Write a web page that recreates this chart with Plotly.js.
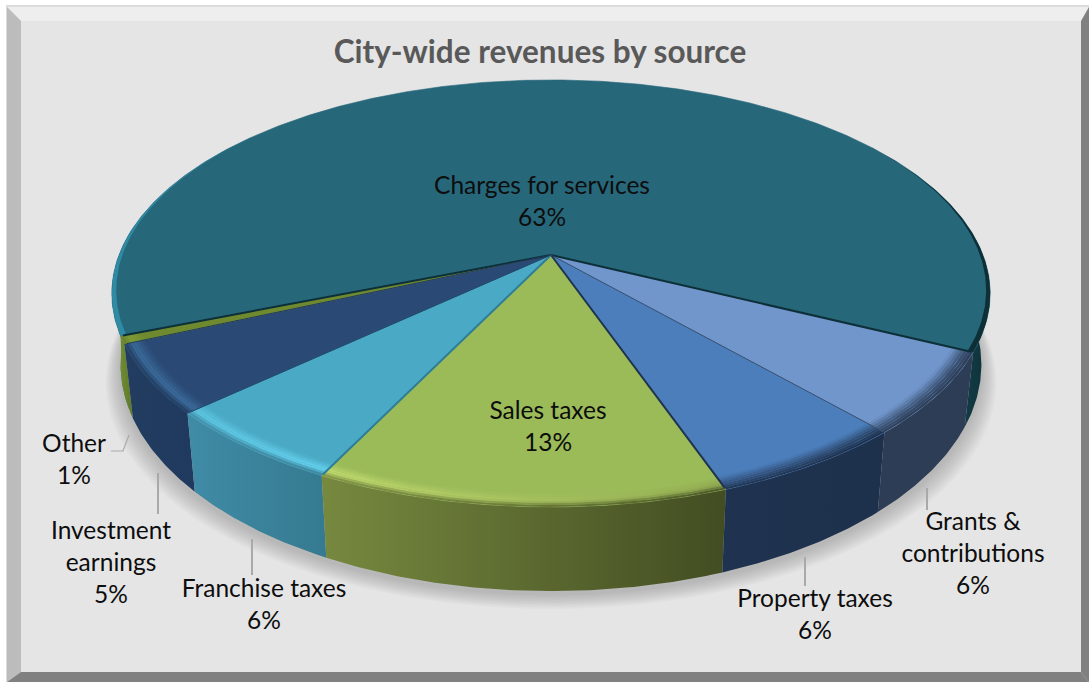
<!DOCTYPE html>
<html><head><meta charset="utf-8">
<script src="https://cdn.plot.ly/plotly-3.0.1.min.js"></script>
<style>html,body{margin:0;padding:0;background:#fff;overflow:hidden}#c{width:1089px;height:682px}</style>
</head><body><div id="c"></div>
<script>
// ---- data (clockwise from the start of the first slice) ----
const categories = ["Charges for services","Grants & contributions","Property taxes","Sales taxes","Franchise taxes","Investment earnings","Other"];
const values     = [63.1, 6.2, 6.2, 12.8, 5.9, 5.2, 0.6];
const nameLines  = [["Charges for services"],["Grants &","contributions"],["Property taxes"],["Sales taxes"],["Franchise taxes"],["Investment","earnings"],["Other"]];
const chartTitle = "City-wide revenues by source";

// ---- styling ----
const topColors  = ["#26677a","#7096cb","#4b7ebb","#9bbb59","#4aa9c4","#2a4a75","#6f8a2e"];
const wallLeft   = ["#2d8198","#2c3d55","#1f3350","#77893f","#408ba6","#223d60","#6f8a30"];
const wallRight  = ["#0e2f36","#2c3d55","#1d304c","#424d22","#357a90","#1f3a5e","#5f7a28"];
const hiLeft     = ["#2f8aa3","#3f5678","#33527f","#c3dc6f","#5cc6e2","#3a6a9a","#7f9b35"];
const hiRight    = ["#0e2f36","#3c5274","#2c4668","#8fa850","#66d4f2","#3c6c9c","#7f9b35"];
const sepColors  = ["#0d2f38","#0d2f38","#3a5070","#1d3350","#2e7d97","#1f4a6a","#1f3a5e"];
const sepWidths  = [2,2,1,2,2,1,1];
// label centre positions, pixel layout
const labelX = [542,973,815,548,264,111,74];
const labelY = [188,524,601,413,591,533,446];
const lineGap = 32;
const leaderPaths = [[[927,488],[927,510]],[[805,557],[805,586]],[[252,539],[252,575]],[[158,473],[158,514]],[[111,451],[123,451],[129,435]]];

// ---- projection of the tilted disc ----
const cx=551, cy=255, A=432, B=206.6, K=0.18, H=69, SX=0.98, START=248.56;
const rad=d=>d*Math.PI/180;
function rimPt(th,r){const X=Math.sin(rad(th)),Y=Math.cos(rad(th)),w=1+K*Y*r;return [cx+A*X*r/w,cy-B*Y*r/w];}
function lowPt(th){const X=Math.sin(rad(th)),Y=Math.cos(rad(th)),w=1+K*Y;return [cx+SX*A*X/w,cy-B*Y/w+H/w];}
function arc(a,b,f){const out=[],n=Math.max(2,Math.ceil(Math.abs(b-a)*2));for(let i=0;i<=n;i++)out.push(f(a+(b-a)*i/n));return out;}
function hex(c){return [1,3,5].map(i=>parseInt(c.substr(i,2),16));}
function mix(a,b,t){const p=hex(a),q=hex(b);return '#'+p.map((v,i)=>Math.round(v+(q[i]-v)*t).toString(16).padStart(2,'0')).join('');}
function poly(pts,o){return Object.assign({x:pts.map(p=>p[0]),y:pts.map(p=>p[1]),type:'scatter',mode:'lines',fill:'toself',line:{width:0},hoverinfo:'skip',showlegend:false},o);}

const total=values.reduce((a,b)=>a+b,0);
const bounds=[START];values.forEach(v=>bounds.push(bounds[bounds.length-1]+v/total*360));

const traces=[];
// soft shadow under the disc
for(let i=10;i>=1;i--){
  const s=1+i*0.0035, dy=3+i*1.5;
  const pts=arc(0,360,t=>{const p=lowPt(t);return [cx+(p[0]-cx)*s,p[1]+dy];});
  traces.push(poly(pts,{fillcolor:'rgba(0,0,0,0.02)'}));
}
// side walls
function wall(a,b,cl,cr,extra){
  const pts=arc(a,b,t=>rimPt(t,1)).concat(arc(b+(extra||0),a,lowPt));
  traces.push(poly(pts,{fillcolor:cl,fillgradient:{type:'horizontal',colorscale:[[0,cl],[1,cr]]}}));
}
wall(bounds[0],bounds[0]+30,wallLeft[0],mix(wallLeft[0],topColors[0],0.6));
wall(bounds[1]-360-30,bounds[1]-360,'#123c46',wallRight[0]);
for(let i=values.length-1;i>=1;i--){
  const a=bounds[i]-360,b=bounds[i+1]-360;
  wall(a,b,wallLeft[i],wallRight[i],i===values.length-1?14:0);
}
// top surfaces
values.forEach((v,i)=>{
  const pts=[[cx,cy]].concat(arc(bounds[i],bounds[i+1],t=>rimPt(t,1)));
  traces.push(poly(pts,{fillcolor:topColors[i],line:{width:0.6,color:topColors[i]}}));
});
// rounded rim (bevel) bands
const bandN=7, inner=0.955;
for(let i=1;i<values.length;i++){
  const a=bounds[i]-360,b=bounds[i+1]-360;
  for(let j=0;j<bandN;j++){
    const r0=inner+(1-inner)*j/bandN, r1=inner+(1-inner)*(j+1)/bandN, t=(j+0.5)/bandN;
    const col=(hi,w)=>t<0.6?mix(topColors[i],hi,t/0.6):mix(hi,w,(t-0.6)/0.4);
    const cL=col(hiLeft[i],wallLeft[i]), cR=col(hiRight[i],wallRight[i]);
    const pts=arc(a,b,q=>rimPt(q,r0)).concat(arc(b,a,q=>rimPt(q,r1)));
    traces.push(poly(pts,{fillcolor:cL,fillgradient:{type:'horizontal',colorscale:[[0,cL],[1,cR]]}}));
  }
}
// tapered edge shading on the large slice
function edge(a,b,thick){
  return arc(a,b,q=>rimPt(q,1)).concat(arc(b,a,q=>rimPt(q,1-0.012*thick(Math.abs((q-a)/(b-a))))));
}
traces.push(poly(edge(bounds[0],bounds[0]+60,u=>1-u),{fillcolor:hiLeft[0]}));
traces.push(poly(edge(bounds[1]-60,bounds[1],u=>u),{fillcolor:hiRight[0]}));
// slice separators on the top surface
bounds.slice(0,values.length).forEach((th,i)=>{
  const p=rimPt(th,0.995);
  traces.push({x:[cx,p[0]],y:[cy,p[1]],type:'scatter',mode:'lines',line:{color:sepColors[i],width:sepWidths[i]},hoverinfo:'skip',showlegend:false});
});
// leader lines
leaderPaths.forEach((p,i)=>traces.push({x:p.map(q=>q[0]),y:p.map(q=>q[1]),type:'scatter',mode:'lines',line:{color:'#a9a9a9',width:i==4?1.2:2},hoverinfo:'skip',showlegend:false}));
// labels
const tx=[],ty=[],tt=[];
categories.forEach((c,i)=>{
  const lines=nameLines[i].concat([Math.round(values[i]/total*100)+'%']);
  lines.forEach((s,k)=>{tx.push(labelX[i]);ty.push(labelY[i]+k*lineGap);tt.push(s);});
});
traces.push({x:tx,y:ty,text:tt,type:'scatter',mode:'text',textposition:'middle center',textfont:{family:'Lato, sans-serif',size:24.5,color:'#0d0d0d'},hoverinfo:'skip',showlegend:false});

// frame as shapes
function fr(path,c){return {type:'path',xref:'x',yref:'y',path:path,fillcolor:c,line:{width:0},layer:'below'};}
const shapes=[
  {type:'rect',xref:'x',yref:'y',x0:6,y0:5,x1:1089,y1:682,fillcolor:'#dcdcdc',line:{width:0},layer:'below'},
  fr('M7,7 L1089,7 L1081,21 L21,21 Z','#eeeeee'),
  fr('M7,7 L21,21 L21,672 L7,682 Z','#bcbcbc'),
  fr('M1089,7 L1089,682 L1081,672 L1081,21 Z','#808080'),
  fr('M7,682 L21,672 L1081,672 L1089,682 Z','#808080'),
  {type:'rect',xref:'x',yref:'y',x0:21,y0:21,x1:1081,y1:672,fillcolor:'#e5e5e5',line:{width:0},layer:'below'}
];

const layout={
  width:1089,height:682,margin:{l:0,r:0,t:0,b:0},paper_bgcolor:'#ffffff',plot_bgcolor:'rgba(0,0,0,0)',showlegend:false,
  xaxis:{range:[0,1089],visible:false,fixedrange:true},
  yaxis:{range:[682,0],visible:false,fixedrange:true},
  shapes:shapes,
  title:{text:'<b>'+chartTitle+'</b>',x:540/1089,xanchor:'center',y:1-51.5/682,yanchor:'middle',font:{family:'Lato, sans-serif',size:31.5,color:'#595959'}}
};
Plotly.newPlot('c',traces,layout,{displayModeBar:false,staticPlot:true});
</script></body></html>
